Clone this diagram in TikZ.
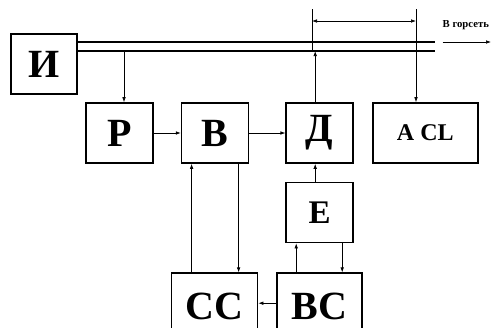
\documentclass[tikz,border=0pt]{standalone}
\usepackage{fontspec}
\setmainfont{Liberation Serif}
\usetikzlibrary{arrows.meta,positioning}

\begin{document}
\begin{tikzpicture}[
  x=1pt,y=-1pt,
  node distance=18pt and 27pt,
  unit/.style={draw,line width=1.6pt,minimum width=67pt,minimum height=60pt,inner sep=0pt,font=\bfseries\fontsize{40}{40}\selectfont},
  flow/.style={-{Latex[length=5pt,width=3.6pt]},line width=0.7pt},
  bus/.style={line width=1.4pt},
  dim/.style={{Latex[length=5pt,width=3.6pt]}-{Latex[length=5pt,width=3.6pt]},line width=0.7pt}
]
\useasboundingbox (0,0) rectangle (492,327);
\node[unit,minimum width=66pt] (i) at (44,64) {И};
\node[unit] (p) at (119.5,133) {Р};
\node[unit,right=27pt of p] (v) {В};
\node[unit,right=36pt of v] (d) {Д};
\node[unit,right=18pt of d,minimum width=105pt,font=\bfseries\fontsize{24}{24}\selectfont] (acl) {A CL};
\node[unit,below=18pt of d,font=\bfseries\fontsize{33}{33}\selectfont] (e) {Е};
\node[unit,below=29pt of e,minimum width=85pt,minimum height=66pt] (bc) {ВС};
\node[unit,left=18pt of bc,minimum width=86pt,minimum height=66pt] (cc) {СС};
% bus
\coordinate (busA) at (435,42);
\coordinate (busB) at (435,51);
\draw[bus] (i.east |- busA) -- (busA);
\draw[bus] (i.east |- busB) -- (busB);
\node[anchor=base west,inner sep=0pt,font=\bfseries\fontsize{10.7}{10.7}\selectfont] (net) at (442.5,27) {В горсеть};
\coordinate (netEnd) at (491,42);
\draw[flow] (net.west |- netEnd) -- (netEnd);
% dimension
\coordinate (dimL) at (312,9);
\coordinate (dimR) at (416,9);
\draw[line width=0.7pt] (dimL) -- (dimL |- busB);
\draw[dim] ([yshift=-12pt]dimL) -- ([yshift=-12pt]dimR);
% connectors
\coordinate (tapP) at (124,51);
\draw[flow] (tapP) -- (tapP |- p.north);
\draw[flow] (p) -- (v);
\draw[flow] (v) -- (d);
\draw[flow] ([xshift=-4.5pt]d.north) -- ([xshift=-4.5pt]d.north |- busB);
\draw[flow] (dimR) -- (dimR |- acl.north);
\draw[flow] ([xshift=-4.5pt]e.north) -- ([xshift=-4.5pt]e.north |- d.south);
\draw[flow] ([xshift=23.5pt]v.south) -- ([xshift=23.5pt]v.south |- cc.north);
\draw[flow] ([xshift=-23.5pt]v.south |- cc.north) -- ([xshift=-23.5pt]v.south);
\draw[flow] ([xshift=-23.5pt]bc.north) -- ([xshift=-23.5pt]bc.north |- e.south);
\draw[flow] ([xshift=22.5pt]e.south) -- ([xshift=22.5pt]e.south |- bc.north);
\draw[flow] ([yshift=3pt]bc.west) -- ([yshift=3pt]cc.east);
\end{tikzpicture}
\end{document}
